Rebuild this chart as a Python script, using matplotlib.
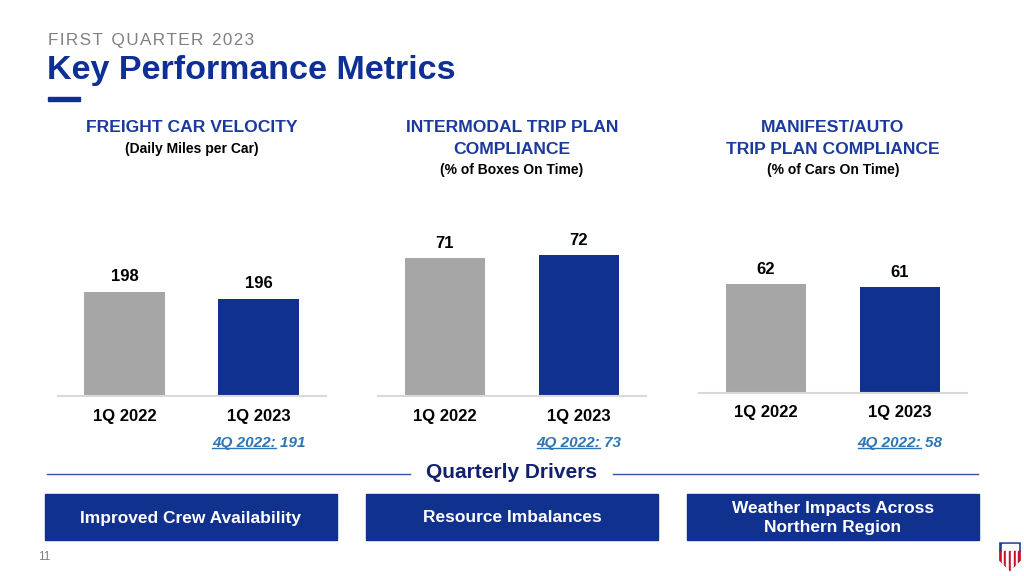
import matplotlib
matplotlib.use('Agg')
import matplotlib.pyplot as plt
from matplotlib.patches import Rectangle, Polygon
from matplotlib.lines import Line2D

# Data
quarters = ['1Q 2022', '1Q 2023']
velocity = [198, 196]
intermodal = [71, 72]
manifest = [62, 61]
prior_labels = ['4Q 2022:', '4Q 2022:', '4Q 2022:']
prior_values = ['191', '73', '58']

panel_titles = [
    ['FREIGHT CAR VELOCITY'],
    ['INTERMODAL TRIP PLAN', 'COMPLIANCE'],
    ['MANIFEST/AUTO', 'TRIP PLAN COMPLIANCE'],
]
panel_subtitles = ['(Daily Miles per Car)', '(% of Boxes On Time)', '(% of Cars On Time)']
drivers = ['Improved Crew Availability', 'Resource Imbalances',
           'Weather Impacts Across\nNorthern Region']

BLUE = '#11318f'
GRAY = '#a6a6a6'
HEAD_BLUE = '#1b3a9c'
LINK = '#2e75b6'
ARIAL = ['Liberation Sans', 'DejaVu Sans']

W, H = 1024, 576
fig = plt.figure(figsize=(W / 100, H / 100), dpi=100)
fig.patch.set_facecolor('white')


def fx(x):
    return x / W


def fy(y):
    return 1 - y / H


# Header
fig.text(fx(48), fy(41), 'F I R S T   Q U A R T E R   2 0 2 3'.replace('   ', '\u2002').replace(' ', '\u200a'),
         color='#808080', fontsize=12.3, family=ARIAL, va='center', ha='left')
fig.text(fx(47), fy(70), 'Key Performance Metrics', color='#0d2f96', fontsize=24.5,
         fontweight='bold', family=ARIAL, va='center', ha='left')
fig.add_artist(Rectangle((fx(48), fy(101)), fx(32), 4 / H, color='#0d2f96',
                         transform=fig.transFigure))

# Panels: left px, baseline px, ymin, px per unit
panels = [
    (57.5, 396, 168.3, 3.5, velocity),
    (378, 396, 25.1, 3.0, intermodal),
    (699, 393, 25.8, 3.0, manifest),
]
ax_h = 200
renderer = fig.canvas.get_renderer()

for i, (left, base, ymin, ppu, vals) in enumerate(panels):
    ax = fig.add_axes([fx(left), fy(base), fx(268), ax_h / H])
    ax.bar([0, 1], vals, width=0.6, color=[GRAY, BLUE], bottom=0)
    ax.set_xlim(-0.5, 1.5)
    ax.set_ylim(ymin, ymin + ax_h / ppu)
    for s in ['top', 'right', 'left']:
        ax.spines[s].set_visible(False)
    ax.spines['bottom'].set_color('#d9d9d9')
    ax.spines['bottom'].set_linewidth(1.5)
    ax.set_yticks([])
    ax.set_xticks([0, 1])
    ax.set_xticklabels(quarters, fontsize=12, fontweight='bold', family=ARIAL)
    ax.tick_params(axis='x', length=0, pad=9)
    ax.patch.set_alpha(0)
    for x, v in zip([0, 1], vals):
        ax.annotate(str(v), (x, v), xytext=(0, 11), textcoords='offset points',
                    ha='center', va='center', fontsize=12, fontweight='bold',
                    family=ARIAL)

    # panel titles
    cx = left + 134
    y = 128
    for line in panel_titles[i]:
        fig.text(fx(cx), fy(y), line, color=HEAD_BLUE, fontsize=12.6, fontweight='bold',
                 family=ARIAL, ha='center', va='center')
        y += 21
    fig.text(fx(cx), fy(y), panel_subtitles[i], color='black', fontsize=10,
             fontweight='bold', family=ARIAL, ha='center', va='center')

    # prior quarter note with underlined label
    nx = left + 201
    full = fig.text(fx(nx), fy(443), prior_labels[i] + ' ' + prior_values[i], color=LINK,
                    fontsize=11, fontweight='bold', style='italic', family=ARIAL,
                    ha='center', va='center')
    bb = full.get_window_extent(renderer)
    part = fig.text(0, 0, prior_labels[i], fontsize=11, fontweight='bold',
                    style='italic', family=ARIAL)
    pw = part.get_window_extent(renderer).width
    part.remove()
    fig.add_artist(Line2D([bb.x0 / W, (bb.x0 + pw) / W], [(bb.y0 + 2) / H] * 2,
                          color=LINK, lw=1, transform=fig.transFigure))

# Quarterly drivers
fig.text(fx(512), fy(473), 'Quarterly Drivers', color='#12216e', fontsize=15,
         fontweight='bold', family=ARIAL, ha='center', va='center')
for x0, x1 in [(47, 410), (613, 978)]:
    fig.add_artist(Line2D([fx(x0), fx(x1)], [fy(474)] * 2, color='#3553a8', lw=1,
                          transform=fig.transFigure))

box_lefts = [45, 366, 687]
for bx, txt in zip(box_lefts, drivers):
    fig.add_artist(Rectangle((fx(bx), fy(540)), fx(292), 46 / H, color=BLUE,
                             transform=fig.transFigure))
    fig.text(fx(bx + 146), fy(518), txt, color='white', fontsize=12.5, fontweight='bold',
             family=ARIAL, ha='center', va='center', linespacing=1.3)

fig.text(fx(38), fy(557), '11', color='#808080', fontsize=8.5, family=ARIAL,
         ha='left', va='center')

# Small shield logo
lax = fig.add_axes([fx(998), fy(572), fx(24), 32 / H])
lax.set_xlim(0, 10)
lax.set_ylim(0, 14)
lax.axis('off')
shield = Polygon([(0.5, 13), (9.5, 13), (9.5, 5), (5, 0.3), (0.5, 5)], closed=True,
                 facecolor='none', edgecolor='none')
lax.add_patch(shield)
top = Rectangle((0, 9), 10, 5, color='#1c3f94')
top.set_clip_path(shield)
lax.add_patch(top)
lax.add_patch(Rectangle((1.6, 9.8), 6.8, 2.4, color='white'))
for k in range(9):
    r = Rectangle((0.5 + k * 1.0, 0), 1.0, 9, color='#c8102e' if k % 2 == 0 else 'white')
    r.set_clip_path(shield)
    lax.add_patch(r)

fig.savefig('out.png', dpi=100)
